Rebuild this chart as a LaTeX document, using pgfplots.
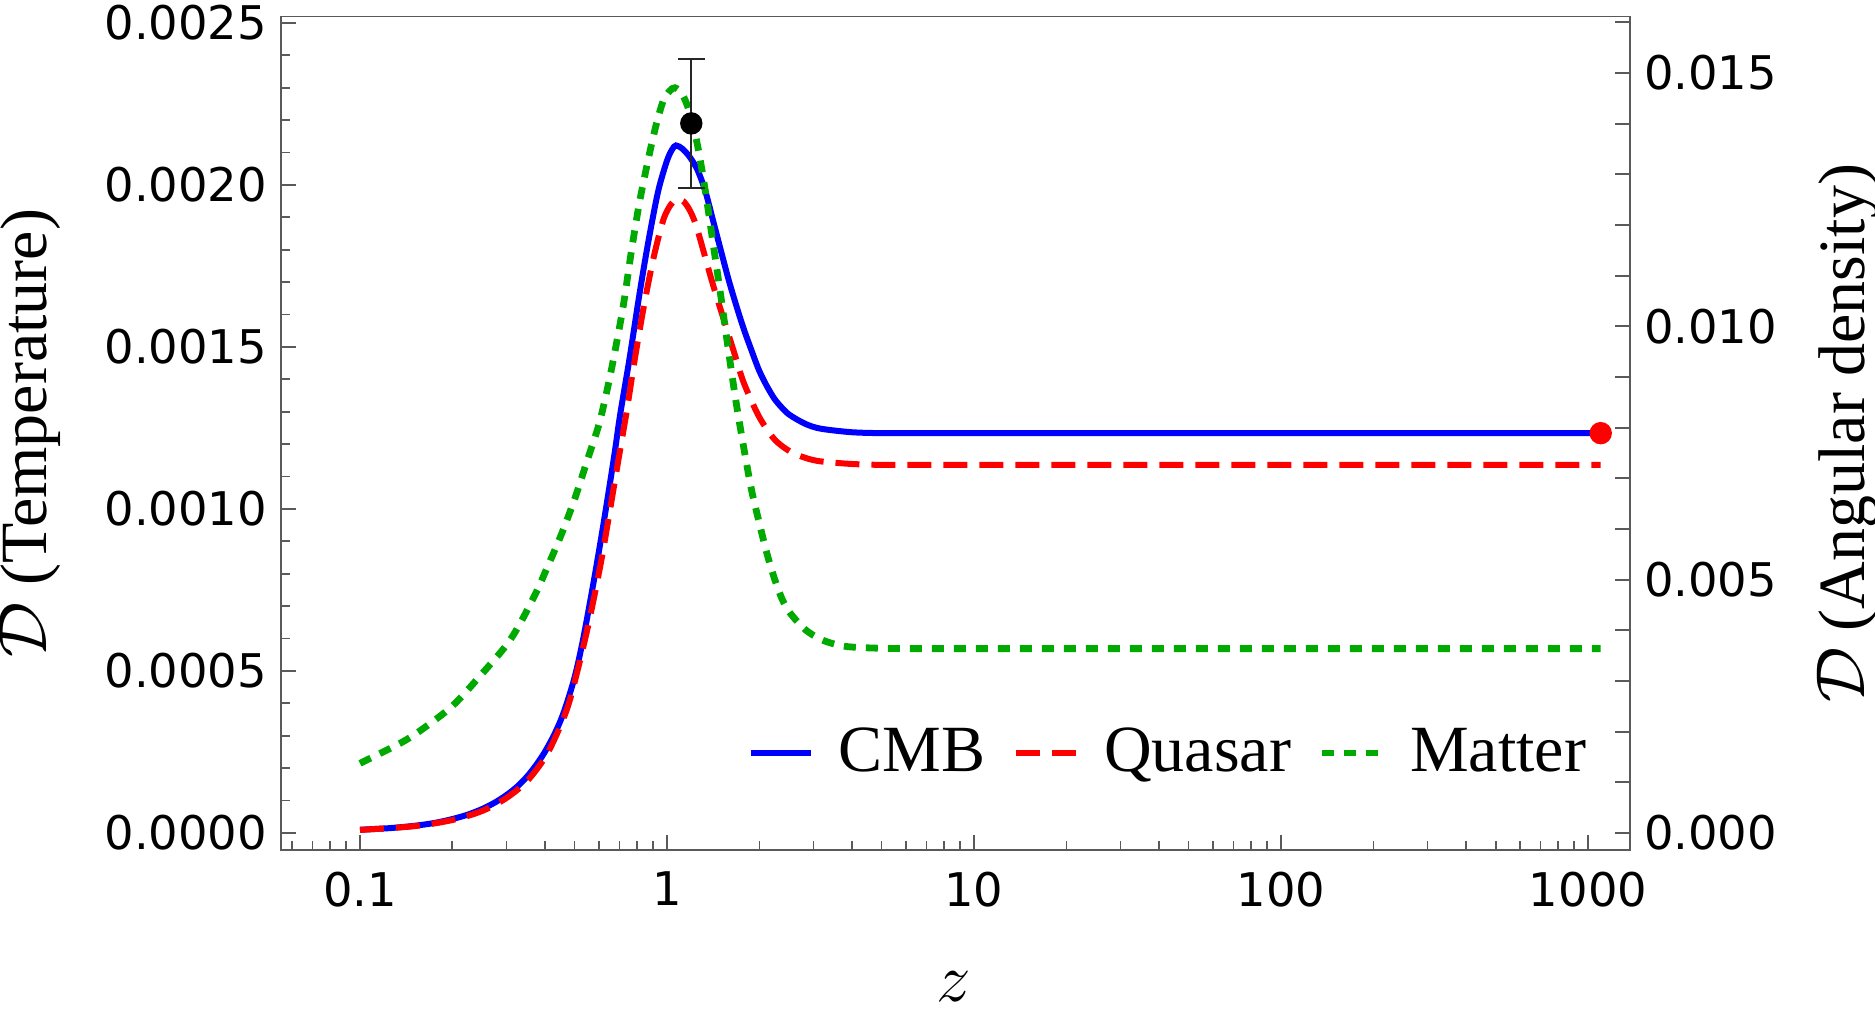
\documentclass[border=0pt]{standalone}
\usepackage{fontspec}
\setmainfont{Liberation Serif}
\newfontfamily\dejavu{DejaVu Sans}
\usepackage{pgfplots}
\usepackage{pgfplotstable}
\pgfplotsset{compat=1.18}
\definecolor{matgreen}{RGB}{0,170,0}
\definecolor{framegray}{RGB}{90,90,90}

\pgfplotstableread{
z v
0.1 0.0000100
0.125 0.0000150
0.15 0.0000220
0.175 0.0000310
0.2 0.0000430
0.225 0.0000570
0.25 0.0000740
0.275 0.0000940
0.3 0.000117
0.325 0.000143
0.35 0.000174
0.375 0.000210
0.4 0.000250
0.43 0.000305
0.46 0.000370
0.5 0.000480
0.5335 0.000600
0.5757 0.000770
0.614 0.000925
0.6522 0.001080
0.6776 0.001182
0.7035 0.001290
0.7568 0.001470
0.8125 0.001660
0.8676 0.001820
0.9356 0.001980
1.0 0.002075
1.04 0.002110
1.07 0.002122
1.122 0.002112
1.189 0.002085
1.259 0.002045
1.334 0.001980
1.413 0.001890
1.496 0.001800
1.585 0.001710
1.679 0.001630
1.778 0.001556
1.884 0.001490
1.995 0.001428
2.113 0.001380
2.239 0.001340
2.371 0.001312
2.512 0.001290
2.818 0.001263
3.162 0.001248
3.981 0.001237
5.012 0.001234
6.31 0.001234
7.94 0.001234
10 0.001234
12.6 0.001234
15.8 0.001234
20 0.001234
31.6 0.001234
50 0.001234
79.4 0.001234
126 0.001234
200 0.001234
316 0.001234
500 0.001234
794 0.001234
1100 0.001234
}\cmbdata

\pgfplotstableread{
z v
0.1 0.0000095
0.15 0.0000210
0.2 0.0000400
0.25 0.0000680
0.3 0.000108
0.35 0.000160
0.4 0.000232
0.44 0.000310
0.4826 0.000410
0.5465 0.000616
0.6058 0.000822
0.6522 0.000997
0.6946 0.001151
0.7403 0.001305
0.7786 0.001440
0.835 0.001610
0.901 0.001769
0.9726 0.001892
1.03 0.001940
1.0755 0.001955
1.13 0.001950
1.189 0.001920
1.2535 0.001865
1.4142 0.001690
1.646 0.001490
1.778 0.001390
1.995 0.001285
2.239 0.001215
2.512 0.001178
2.818 0.001158
3.162 0.001147
3.981 0.001139
5.012 0.001136
6.31 0.001136
7.94 0.001136
10 0.001136
12.6 0.001136
15.8 0.001136
20 0.001136
31.6 0.001136
50 0.001136
79.4 0.001136
126 0.001136
200 0.001136
316 0.001136
500 0.001136
794 0.001136
1100 0.001136
}\quasardata

\pgfplotstableread{
z v
0.1 0.000215
0.134 0.000275
0.1567 0.000315
0.2 0.000392
0.25 0.000492
0.3 0.000580
0.3325 0.000647
0.376 0.000745
0.4054 0.000815
0.45 0.000915
0.5 0.001030
0.55 0.001150
0.6 0.001260
0.6358 0.001360
0.6686 0.001460
0.7196 0.001624
0.767 0.001800
0.8149 0.001950
0.8784 0.002100
0.9245 0.002190
0.9727 0.002260
1.02 0.002290
1.0617 0.002300
1.122 0.002280
1.189 0.002220
1.259 0.002120
1.334 0.001980
1.413 0.001820
1.496 0.001660
1.585 0.001490
1.679 0.001330
1.778 0.001190
1.884 0.001060
1.995 0.000960
2.113 0.000865
2.239 0.000785
2.371 0.000722
2.512 0.000680
2.818 0.000628
3.162 0.000598
3.548 0.000582
3.981 0.000574
5.012 0.000570
6.31 0.000569
7.94 0.000569
10 0.000569
12.6 0.000569
15.8 0.000569
20 0.000569
31.6 0.000569
50 0.000569
79.4 0.000569
126 0.000569
200 0.000569
316 0.000569
500 0.000569
794 0.000569
1100 0.000569
}\matterdata

\begin{document}
\begin{tikzpicture}
\path[use as bounding box] (-70.25pt,-39.5pt) rectangle (398.5pt,212.5pt);
\begin{axis}[
  at={(0pt,0pt)}, anchor=south west,
  scale only axis, width=337.25pt, height=208.375pt,
  xmode=log, xmin=0.0553, xmax=1370,
  ymin=-0.0000525, ymax=0.00252,
  xtick={0.1,1,10,100,1000}, xticklabels={0.1,1,10,100,1000},
  minor xtick={0.06,0.07,0.08,0.09,0.2,0.3,0.4,0.5,0.6,0.7,0.8,0.9,2,3,4,5,6,7,8,9,20,30,40,50,60,70,80,90,200,300,400,500,600,700,800,900},
  ytick={0,0.0005,0.001,0.0015,0.002,0.0025},
  yticklabels={0.0000,0.0005,0.0010,0.0015,0.0020,0.0025},
  minor ytick={0.0001,0.0002,0.0003,0.0004,0.0006,0.0007,0.0008,0.0009,0.0011,0.0012,0.0013,0.0014,0.0016,0.0017,0.0018,0.0019,0.0021,0.0022,0.0023,0.0024},
  scaled y ticks=false,
  xtick pos=left, ytick pos=left,
  tick align=inside,
  major tick length=3.75pt, minor tick length=2.3pt,
  axis line style={draw=framegray, line width=0.45pt},
  every tick/.style={draw=framegray, line width=0.45pt},
  tick label style={font=\dejavu\fontsize{11.6}{11.6}\selectfont, black},
  xticklabel style={yshift=-2pt},
  label style={font=\fontsize{16.5}{16.5}\selectfont, inner sep=0pt},
  xlabel={$z$},
  ylabel={$\mathcal{D}$ (Temperature)},
  xlabel style={at={(axis description cs:0.499,-0.1644)}, anchor=center},
  ylabel style={at={(axis description cs:-0.1861,0.5)}, anchor=center},
  legend columns=3,
  legend cell align=left,
  legend image code/.code={\draw[#1] (0pt,0pt) -- (15pt,0pt);},
  legend style={at={(axis description cs:0.974,0.1164)}, anchor=east,
    draw=none, fill=none, inner sep=0pt,
    font=\fontsize{16.5}{16.5}\selectfont,
    /tikz/every odd column/.append style={column sep=4.2pt},
    /tikz/every even column/.append style={column sep=4.9pt}},
]
\addplot[blue, line width=1.5pt, smooth, tension=0.5] table[x=z,y=v] {\cmbdata};
\addlegendentry{CMB}
\addplot[red, line width=1.5pt, dash pattern=on 6pt off 3pt, smooth, tension=0.5] table[x=z,y=v] {\quasardata};
\addlegendentry{Quasar}
\addplot[matgreen, line width=1.7pt, dash pattern=on 3pt off 2.5pt, smooth, tension=0.5] table[x=z,y=v] {\matterdata};
\addlegendentry{Matter}
\addplot[forget plot, only marks, mark=*, mark size=2.6pt, black,
  error bars/.cd, y dir=both, y explicit,
  error bar style={line width=0.5pt, black!85},
  error mark options={rotate=90, mark size=3.3pt, line width=0.5pt, black!85}]
  coordinates {(1.2,0.00219) +- (0,0.0002)};
\addplot[forget plot, only marks, mark=*, mark size=2.6pt, red] coordinates {(1100,0.001234)};
\end{axis}
\begin{axis}[
  at={(0pt,0pt)}, anchor=south west,
  scale only axis, width=337.25pt, height=208.375pt,
  xmode=log, xmin=0.0553, xmax=1370,
  ymin=-0.000336, ymax=0.016116,
  axis x line=none, axis y line*=right,
  ytick={0,0.005,0.01,0.015}, yticklabels={0.000,0.005,0.010,0.015},
  minor ytick={0.001,0.002,0.003,0.004,0.006,0.007,0.008,0.009,0.011,0.012,0.013,0.014,0.016},
  scaled y ticks=false,
  tick align=inside,
  major tick length=3.75pt, minor tick length=3.75pt,
  axis line style={draw=framegray, line width=0.45pt, -},
  every tick/.style={draw=framegray, line width=0.45pt},
  tick label style={font=\dejavu\fontsize{11.6}{11.6}\selectfont, black},
  label style={font=\fontsize{16.5}{16.5}\selectfont, inner sep=0pt},
  ylabel={$\mathcal{D}$ (Angular density)},
  ylabel style={at={(axis description cs:1.1616,0.5)}, anchor=center},
]
\end{axis}
\end{tikzpicture}
\end{document}
